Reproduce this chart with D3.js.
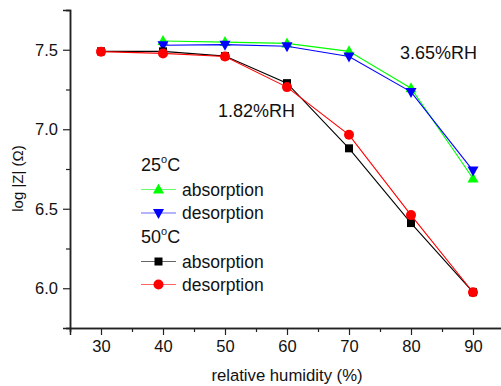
<!DOCTYPE html>
<html>
<head>
<meta charset="utf-8">
<script src="https://cdn.jsdelivr.net/npm/d3@7"></script>
<style>
  body { margin: 0; background: #fff; }
  text { font-family: "Liberation Sans", Arial, sans-serif; fill: #111; }
</style>
</head>
<body>
<div id="chart"></div>
<script>
// humidity levels (x)
var humidity = [30, 40, 50, 60, 70, 80, 90];
// 25 C series (no point at 30)
var abs25 = [null, 7.555, 7.548, 7.54, 7.49, 7.258, 6.69];
var des25 = [null, 7.528, 7.532, 7.522, 7.458, 7.235, 6.74];
// 50 C series
var abs50 = [7.49, 7.49, 7.46, 7.29, 6.88, 6.41, 5.975];
var des50 = [7.488, 7.477, 7.458, 7.265, 6.965, 6.46, 5.975];

var xTicks = [30, 40, 50, 60, 70, 80, 90];
var yTicks = [6.0, 6.5, 7.0, 7.5];

var svgWidth = 501, svgHeight = 386;
var svg = d3.select("#chart").append("svg")
    .attr("width", svgWidth)
    .attr("height", svgHeight);

var xScale = d3.scaleLinear().domain([25, 95]).range([70, 504]);
var yScale = d3.scaleLinear().domain([5.75, 7.75]).range([328, 10]);

// minor ticks
var xMinor = d3.range(25, 96, 5).filter(d => xTicks.indexOf(d) < 0);
var yMinor = d3.range(5.75, 7.76, 0.25).filter(d => Math.abs(d * 2 - Math.round(d * 2)) > 0.01);

var xAxisG = svg.append("g").attr("transform", "translate(0,328)");
xAxisG.call(d3.axisBottom(xScale).tickValues(xMinor).tickSize(4).tickFormat(""));
xAxisG.append("g").call(d3.axisBottom(xScale).tickValues(xTicks).tickSize(7).tickPadding(5).tickFormat(d3.format("d")));

var yAxisG = svg.append("g").attr("transform", "translate(70,0)");
yAxisG.call(d3.axisLeft(yScale).tickValues(yMinor).tickSize(4).tickFormat(""));
yAxisG.append("g").call(d3.axisLeft(yScale).tickValues(yTicks).tickSize(7).tickPadding(5).tickFormat(d3.format(".1f")));

svg.selectAll(".domain").attr("stroke", "#222").attr("stroke-width", 1.5);
svg.selectAll(".tick line").attr("stroke", "#222").attr("stroke-width", 1.2);
svg.selectAll(".tick text").attr("font-size", 16.5).attr("fill", "#111")
    .attr("font-family", "'Liberation Sans', Arial, sans-serif");

// axis labels
svg.append("text")
    .attr("x", 287).attr("y", 381)
    .attr("text-anchor", "middle")
    .attr("font-size", 16.7)
    .text("relative humidity (%)");

svg.append("text")
    .attr("transform", "translate(23,178.5) rotate(-90)")
    .attr("text-anchor", "middle")
    .attr("font-size", 15)
    .text("log |Z| (\u03A9)");

var series = [
    {values: abs25, color: "#00ff00", symbol: "up"},
    {values: des25, color: "#0000ff", symbol: "down"},
    {values: abs50, color: "#000000", symbol: "square"},
    {values: des50, color: "#ff0000", symbol: "circle"}
];

function drawMarker(g, sym, color, x, y) {
    if (sym === "circle") {
        g.append("circle").attr("cx", x).attr("cy", y).attr("r", 5).attr("fill", color);
    } else if (sym === "square") {
        g.append("rect").attr("x", x - 4).attr("y", y - 4).attr("width", 8).attr("height", 8).attr("fill", color);
    } else if (sym === "up") {
        g.append("path").attr("d", `M${x},${y - 6}L${x + 5.5},${y + 4}L${x - 5.5},${y + 4}Z`).attr("fill", color);
    } else {
        g.append("path").attr("d", `M${x},${y + 6}L${x + 5.5},${y - 4}L${x - 5.5},${y - 4}Z`).attr("fill", color);
    }
}

var line = d3.line()
    .defined(d => d.v !== null)
    .x(d => xScale(d.x))
    .y(d => yScale(d.v));

series.forEach(function (s) {
    var pts = humidity.map((h, i) => ({x: h, v: s.values[i]}));
    svg.append("path")
        .datum(pts)
        .attr("d", line)
        .attr("fill", "none")
        .attr("stroke", s.color)
        .attr("stroke-width", 1.1);
    var g = svg.append("g");
    pts.filter(p => p.v !== null).forEach(function (p) {
        drawMarker(g, s.symbol, s.color, xScale(p.x), yScale(p.v));
    });
});

// annotations
svg.append("text").attr("x", 218).attr("y", 117).attr("font-size", 18).text("1.82%RH");
svg.append("text").attr("x", 400).attr("y", 59).attr("font-size", 18).text("3.65%RH");

// legend
function tempLabel(y, t) {
    var txt = svg.append("text").attr("x", 141).attr("y", y).attr("font-size", 18);
    txt.append("tspan").text(t);
    txt.append("tspan").attr("font-size", 11).attr("dy", -8).text("o");
    txt.append("tspan").attr("dy", 8).text("C");
}
tempLabel(171, "25");
tempLabel(243, "50");

var legendRows = [
    {y: 189.5, s: series[0], label: "absorption"},
    {y: 213, s: series[1], label: "desorption"},
    {y: 261.5, s: series[2], label: "absorption"},
    {y: 284.5, s: series[3], label: "desorption"}
];
legendRows.forEach(function (r) {
    svg.append("line").attr("x1", 141).attr("x2", 176).attr("y1", r.y).attr("y2", r.y)
        .attr("stroke", r.s.color).attr("stroke-width", 1).attr("opacity", 0.6);
    drawMarker(svg.append("g"), r.s.symbol, r.s.color, 158.5, r.y);
    svg.append("text").attr("x", 182).attr("y", r.y + 6).attr("font-size", 17.5).text(r.label);
});
</script>
</body>
</html>
